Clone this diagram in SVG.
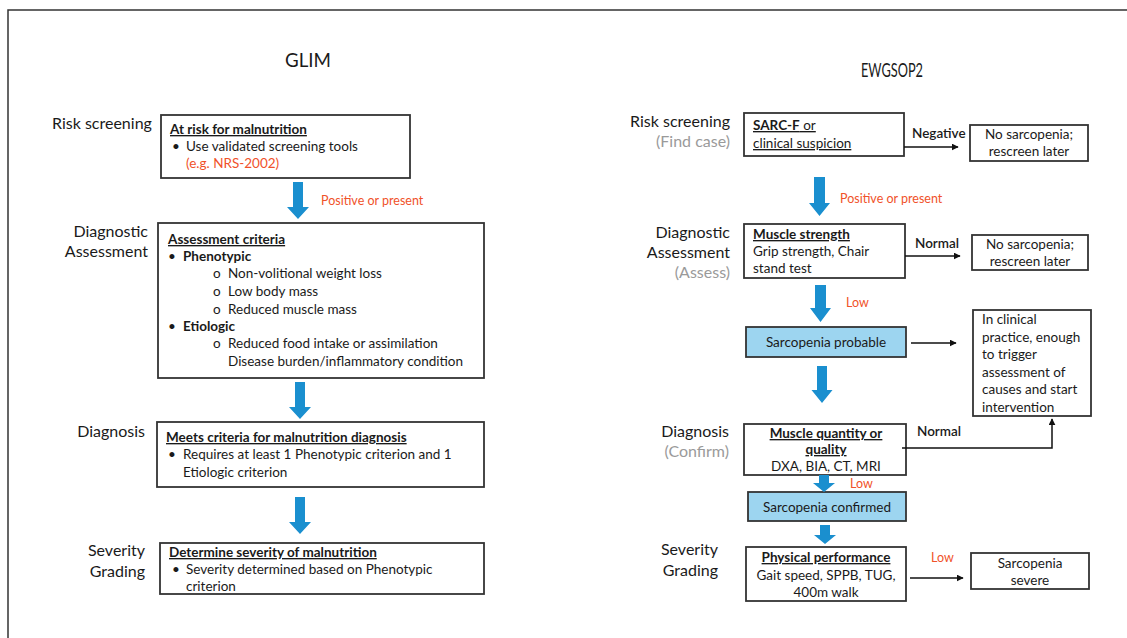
<svg xmlns="http://www.w3.org/2000/svg" width="1127" height="638" viewBox="0 0 1127 638">
<style>
text{font-family:Lato,"Open Sans","Liberation Sans",sans-serif;fill:#1a1a1a;}
.t{font-size:13.5px;}
.lab{font-size:16px;}
.title{font-size:20px;}
.b{font-weight:bold;}
.u{text-decoration:underline;}
.or{fill:#F0522A;font-size:12.5px;}
.gr{fill:#9a9a9a;}
.box{fill:#fff;stroke:#333;stroke-width:1.8;}
.bbox{fill:#9DD5F0;stroke:#333;stroke-width:1.8;}
.blk{fill:#1A8FCF;}
.ln{fill:none;stroke:#111;stroke-width:1.5;}
.mid{text-anchor:middle;}
.end{text-anchor:end;}
</style>
<defs>
<marker id="ah" viewBox="0 0 10 10" refX="9" refY="5" markerWidth="7" markerHeight="7" markerUnits="userSpaceOnUse" orient="auto"><path d="M0,0 L10,5 L0,10 z" fill="#111"/></marker>
</defs>
<rect width="1127" height="638" fill="#fff"/>
<path d="M8,638 V10 H1127" fill="none" stroke="#333" stroke-width="1.5"/>

<g id="titles">
<text class="title" x="285" y="67" textLength="46" lengthAdjust="spacingAndGlyphs">GLIM</text>
<text class="title" x="861" y="77" style="font-size:19px" textLength="62" lengthAdjust="spacingAndGlyphs">EWGSOP2</text>
</g>

<g id="labels">
<text class="lab" x="52" y="129">Risk screening</text>
<text class="lab end" x="148" y="237">Diagnostic</text>
<text class="lab end" x="148" y="257">Assessment</text>
<text class="lab end" x="145" y="437">Diagnosis</text>
<text class="lab end" x="145" y="556">Severity</text>
<text class="lab end" x="145" y="577">Grading</text>
<text class="lab end" x="730" y="127">Risk screening</text>
<text class="lab end gr" x="730" y="147">(Find case)</text>
<text class="lab end" x="730" y="238">Diagnostic</text>
<text class="lab end" x="730" y="258">Assessment</text>
<text class="lab end gr" x="730" y="278">(Assess)</text>
<text class="lab end" x="729" y="437">Diagnosis</text>
<text class="lab end gr" x="729" y="457">(Confirm)</text>
<text class="lab end" x="718" y="555">Severity</text>
<text class="lab end" x="718" y="576">Grading</text>
</g>

<g id="glim-risk">
<rect class="box" x="161" y="115" width="249" height="63"/>
<text class="t b u" x="170" y="134">At risk for malnutrition</text>
<text class="t" x="172" y="151">•</text>
<text class="t" x="186" y="151">Use validated screening tools</text>
<text class="t or" x="186" y="168" style="font-size:13.5px">(e.g. NRS-2002)</text>
</g>

<g id="glim-assess">
<rect class="box" x="158" y="223" width="326" height="155"/>
<text class="t b u" x="168" y="244">Assessment criteria</text>
<text class="t" x="168" y="261">•</text>
<text class="t b" x="183" y="261">Phenotypic</text>
<text class="t" x="213" y="278">o</text>
<text class="t" x="228" y="278">Non-volitional weight loss</text>
<text class="t" x="213" y="296">o</text>
<text class="t" x="228" y="296">Low body mass</text>
<text class="t" x="213" y="314">o</text>
<text class="t" x="228" y="314">Reduced muscle mass</text>
<text class="t" x="168" y="331">•</text>
<text class="t b" x="183" y="331">Etiologic</text>
<text class="t" x="213" y="348">o</text>
<text class="t" x="228" y="348">Reduced food intake or assimilation</text>
<text class="t" x="228" y="366">Disease burden/inflammatory condition</text>
</g>

<g id="glim-diagnosis">
<rect class="box" x="157" y="422" width="327" height="65"/>
<text class="t b u" x="166" y="442">Meets criteria for malnutrition diagnosis</text>
<text class="t" x="168" y="459">•</text>
<text class="t" x="183" y="459">Requires at least 1 Phenotypic criterion and 1</text>
<text class="t" x="183" y="477">Etiologic criterion</text>
</g>

<g id="glim-severity">
<rect class="box" x="160" y="543" width="324" height="51"/>
<text class="t b u" x="169" y="557">Determine severity of malnutrition</text>
<text class="t" x="172" y="574">•</text>
<text class="t" x="186" y="574">Severity determined based on Phenotypic</text>
<text class="t" x="186" y="591">criterion</text>
</g>

<g id="ew-risk">
<rect class="box" x="744" y="113" width="160" height="43"/>
<text class="t u" x="753" y="130"><tspan class="b">SARC-F</tspan> or</text>
<text class="t u" x="753" y="148">clinical suspicion</text>
</g>
<g id="ew-nosarc1">
<rect class="box" x="970" y="125" width="118" height="36"/>
<text class="t mid" x="1029" y="139">No sarcopenia;</text>
<text class="t mid" x="1029" y="156">rescreen later</text>
</g>
<g id="ew-strength">
<rect class="box" x="744" y="224" width="161" height="54"/>
<text class="t b u" x="753" y="239">Muscle strength</text>
<text class="t" x="753" y="256">Grip strength, Chair</text>
<text class="t" x="753" y="273">stand test</text>
</g>
<g id="ew-nosarc2">
<rect class="box" x="972" y="235" width="116" height="35"/>
<text class="t mid" x="1030" y="249">No sarcopenia;</text>
<text class="t mid" x="1030" y="266">rescreen later</text>
</g>
<g id="ew-probable">
<rect class="bbox" x="746" y="327" width="160" height="30"/>
<text class="t mid" x="826" y="347">Sarcopenia probable</text>
</g>
<g id="ew-clinical">
<rect class="box" x="973" y="310" width="118" height="106"/>
<text class="t" x="982" y="324">In clinical</text>
<text class="t" x="982" y="342">practice, enough</text>
<text class="t" x="982" y="359">to trigger</text>
<text class="t" x="982" y="377">assessment of</text>
<text class="t" x="982" y="394">causes and start</text>
<text class="t" x="982" y="412">intervention</text>
</g>
<g id="ew-quantity">
<rect class="box" x="744" y="424" width="162" height="51"/>
<text class="t b u mid" x="826" y="438">Muscle quantity or</text>
<text class="t b u mid" x="826" y="454">quality</text>
<text class="t mid" x="826" y="471">DXA, BIA, CT, MRI</text>
</g>
<g id="ew-confirmed">
<rect class="bbox" x="748" y="492" width="158" height="29"/>
<text class="t mid" x="827" y="512">Sarcopenia confirmed</text>
</g>
<g id="ew-performance">
<rect class="box" x="746" y="547" width="160" height="54"/>
<text class="t b u mid" x="826" y="562">Physical performance</text>
<text class="t mid" x="826" y="580">Gait speed, SPPB, TUG,</text>
<text class="t mid" x="826" y="597">400m walk</text>
</g>
<g id="ew-severe">
<rect class="box" x="971" y="553" width="118" height="36"/>
<text class="t mid" x="1030" y="568">Sarcopenia</text>
<text class="t mid" x="1030" y="585">severe</text>
</g>

<g id="connectors">
<path class="blk" d="M293,182 H303 V207 H309 L298,219 L287,207 H293 Z"/>
<path class="blk" d="M295,382 H305 V407 H311 L300,419 L289,407 H295 Z"/>
<path class="blk" d="M295,497 H305 V522 H311 L300,534 L289,522 H295 Z"/>
<path class="blk" d="M814,177 H825 V203 H830 L819.5,216 L809,203 H814 Z"/>
<path class="blk" d="M815,285 H826 V308 H831 L820.5,322 L810,308 H815 Z"/>
<path class="blk" d="M817,366 H827 V390 H832.5 L822,403 L811.5,390 H817 Z"/>
<path class="blk" d="M819,475 H829 V483 H835 L824,492 L813,483 H819 Z"/>
<path class="blk" d="M820,525 H830 V535 H836 L825,544 L814,535 H820 Z"/>
<path class="ln" d="M904,147 H958" marker-end="url(#ah)"/>
<path class="ln" d="M905,256 H960" marker-end="url(#ah)"/>
<path class="ln" d="M911,343 H956" marker-end="url(#ah)"/>
<path class="ln" d="M902,448 H1052 V419" marker-end="url(#ah)"/>
<path class="ln" d="M910,578 H963" marker-end="url(#ah)"/>
<text class="or" x="321" y="205">Positive or present</text>
<text class="or" x="840" y="203">Positive or present</text>
<text class="or" x="846" y="307">Low</text>
<text class="or" x="850" y="488">Low</text>
<text class="or" x="931" y="562">Low</text>
<text class="t" x="912" y="138" style="font-weight:600">Negative</text>
<text class="t" x="915" y="248" style="font-weight:600">Normal</text>
<text class="t" x="917" y="436" style="font-weight:600">Normal</text>
</g>
</svg>
